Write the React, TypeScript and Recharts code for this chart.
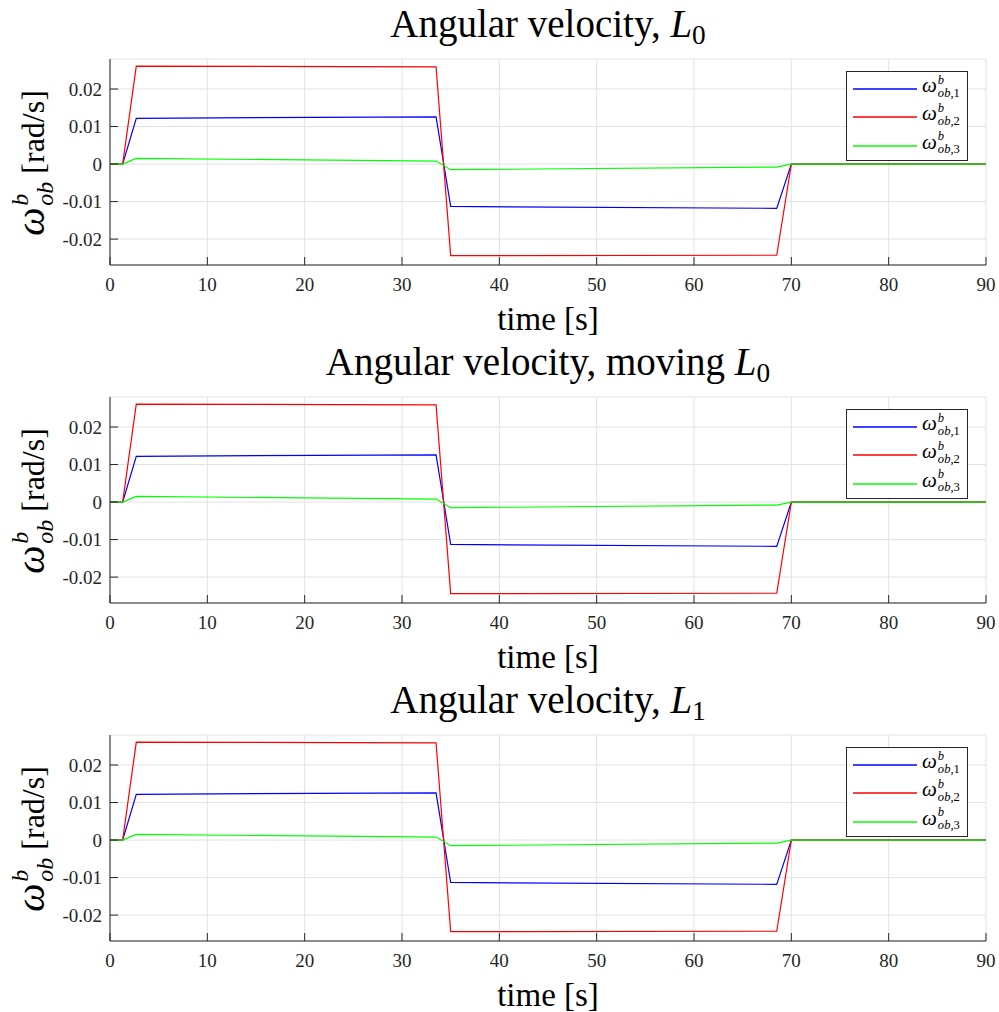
import React from 'react';
import { LineChart, Line, XAxis, YAxis, CartesianGrid, Legend } from 'recharts';

const time = [0, 1.3, 2.7, 33.5, 35, 68.5, 70, 90];
const omega1 = [0, 0, 0.0122, 0.0126, -0.0113, -0.0118, 0, 0];
const omega2 = [0, 0, 0.0261, 0.0259, -0.0244, -0.0243, 0, 0];
const omega3 = [0, 0, 0.0015, 0.0008, -0.0015, -0.0008, 0, 0];

const xTicks = [0, 10, 20, 30, 40, 50, 60, 70, 80, 90];
const yTicks = [-0.02, -0.01, 0, 0.01, 0.02];

const seriesKeys = ['w1', 'w2', 'w3'];
const seriesNames = ['1', '2', '3'];
const seriesColors = ['#0000ff', '#ff0000', '#00ff00'];

const titlePrefix = ['Angular velocity, ', 'Angular velocity, moving ', 'Angular velocity, '];
const titleSub = ['0', '0', '1'];

const FONT = "'Liberation Serif', 'DejaVu Serif', serif";
const AX = '#262626';
const W = 999;
const H = 338;
const PLOT_L = 110;
const PLOT_R = 986;

const rows = time.map((t, i) => ({ t, w1: omega1[i], w2: omega2[i], w3: omega3[i] }));

function Omega({ size, sub }: { size: number; sub: React.ReactNode }) {
  return (
    <span style={{ whiteSpace: 'nowrap', fontSize: size }}>
      <i>ω</i>
      <span style={{ position: 'relative', display: 'inline-block', fontSize: '0.6em', lineHeight: 1, marginLeft: '0.08em' }}>
        <i style={{ position: 'absolute', left: 0, top: '-0.65em' }}>b</i>
        <span style={{ position: 'relative', top: '0.38em' }}>{sub}</span>
      </span>
    </span>
  );
}

// eslint-disable-next-line @typescript-eslint/no-explicit-any
function LegendBox({ payload }: any) {
  return (
    <div style={{
      position: 'relative', width: 122, height: 90, boxSizing: 'border-box',
      border: `1px solid ${AX}`, background: '#fff', fontFamily: FONT, color: '#000',
    }}>
      {(payload || []).map((e: any, i: number) => (
        <div key={i} style={{ position: 'absolute', left: 0, top: 3 + i * 28.3, width: 120, height: 28 }}>
          <svg width={70} height={28} style={{ position: 'absolute', left: 0, top: 0 }}>
            <line x1={6} x2={70} y1={14} y2={14} stroke={e.color} strokeWidth={1.3} />
          </svg>
          <span style={{ position: 'absolute', left: 75, top: 0, lineHeight: '20px' }}>
            <Omega size={21} sub={<><i>ob</i>,{seriesNames[i]}</>} />
          </span>
        </div>
      ))}
    </div>
  );
}

const tickStyle = { fill: AX, fontSize: 19, fontFamily: FONT };

function Panel({ idx }: { idx: number }) {
  return (
    <div style={{ position: 'absolute', left: 0, top: idx * H, width: W, height: H }}>
      <div style={{
        position: 'absolute', left: PLOT_L, width: PLOT_R - PLOT_L, top: 4,
        textAlign: 'center', fontSize: 39, lineHeight: 1, fontFamily: FONT, whiteSpace: 'nowrap',
      }}>
        {titlePrefix[idx]}<i>L</i><span style={{ fontSize: '0.7em', position: 'relative', top: '0.25em' }}>{titleSub[idx]}</span>
      </div>
      <div style={{
        position: 'absolute', left: PLOT_L, width: PLOT_R - PLOT_L, top: 303,
        textAlign: 'center', fontSize: 33, lineHeight: 1, fontFamily: FONT,
      }}>
        time [s]
      </div>
      <div style={{
        position: 'absolute', left: 31, top: 163, transform: 'translate(-50%, -50%) rotate(-90deg)',
        fontSize: 32, lineHeight: 1, fontFamily: FONT, whiteSpace: 'nowrap',
      }}>
        <Omega size={40} sub={<i>ob</i>} /> [rad/s]
      </div>
      <div style={{ position: 'absolute', left: 0, top: 0 }}>
        <LineChart width={W} height={H} data={rows} margin={{ top: 59, right: W - PLOT_R, bottom: 43, left: 0 }}>
          <CartesianGrid stroke="#e2e2e2" strokeWidth={1} />
          <XAxis
            dataKey="t" type="number" domain={[0, 90]} ticks={xTicks} allowDataOverflow
            height={30} stroke={AX} tickSize={-8} tickMargin={21} tick={tickStyle}
          />
          <XAxis
            xAxisId="top" orientation="top" type="number" domain={[0, 90]} ticks={xTicks} allowDataOverflow
            height={0} stroke={AX} tickSize={-8} tick={false}
          />
          <YAxis
            type="number" domain={[-0.0269, 0.028]} ticks={yTicks} allowDataOverflow
            width={PLOT_L} stroke={AX} tickSize={-8} tickMargin={16} tick={tickStyle}
            tickFormatter={(v: number) => (v === 0 ? '0' : v.toFixed(2))}
          />
          <YAxis
            yAxisId="right" orientation="right" type="number" domain={[-0.0269, 0.028]} ticks={yTicks} allowDataOverflow
            width={0} stroke={AX} tickSize={-8} tick={false}
          />
          {seriesKeys.map((k, i) => (
            <Line
              key={k} dataKey={k} name={seriesNames[i]} type="linear" stroke={seriesColors[i]}
              strokeWidth={1.2} dot={false} activeDot={false} isAnimationActive={false}
            />
          ))}
          <Legend
            layout="vertical" align="center" verticalAlign="middle" content={<LegendBox />}
            wrapperStyle={{ left: 846, top: 71, width: 122, height: 90 }}
          />
        </LineChart>
      </div>
    </div>
  );
}

export default function App() {
  return (
    <div style={{ position: 'absolute', left: 0, top: 0, width: W, height: 1012, background: '#fff', overflow: 'hidden' }}>
      {[0, 1, 2].map(i => <Panel key={i} idx={i} />)}
    </div>
  );
}
